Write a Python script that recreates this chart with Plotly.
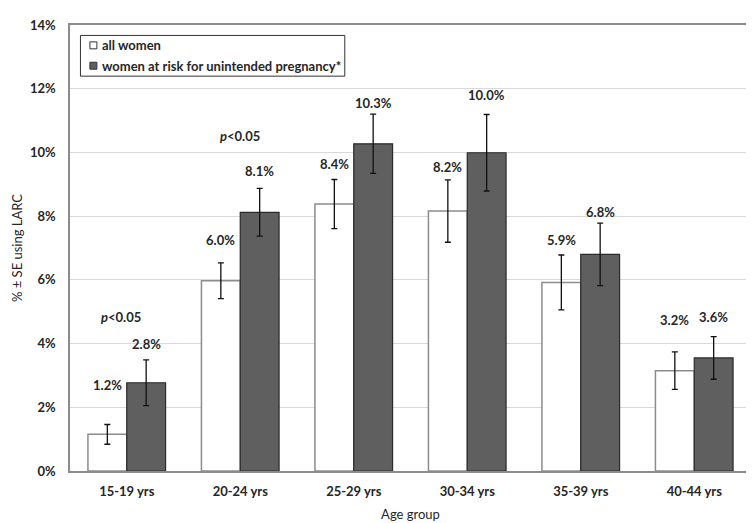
import plotly.graph_objects as go

categories = ["15-19 yrs", "20-24 yrs", "25-29 yrs", "30-34 yrs", "35-39 yrs", "40-44 yrs"]
all_women = [1.15, 5.97, 8.38, 8.16, 5.92, 3.15]
all_women_se = [0.31, 0.56, 0.77, 0.98, 0.86, 0.59]
at_risk = [2.77, 8.12, 10.27, 9.99, 6.80, 3.55]
at_risk_se = [0.72, 0.75, 0.93, 1.20, 0.98, 0.67]
all_women_labels = ["1.2%", "6.0%", "8.4%", "8.2%", "5.9%", "3.2%"]
at_risk_labels = ["2.8%", "8.1%", "10.3%", "10.0%", "6.8%", "3.6%"]
sig_categories = ["15-19 yrs", "20-24 yrs"]
y_ticks = [0, 2, 4, 6, 8, 10, 12, 14]
y_tick_labels = ["0%", "2%", "4%", "6%", "8%", "10%", "12%", "14%"]
series_names = ["all women", "women at risk for unintended pregnancy*"]

FONT = "Lato"
TXT = "#262626"
WHITE_FILL, WHITE_LINE = "white", "#8c8c8c"
DARK_FILL, DARK_LINE = "#5f5f5f", "#2a2a2a"

# plot-area geometry in pixels (for legend placement)
W, H = 754, 523
ML, MR, MT, MB = 61, 9, 14, 60
PW, PH = W - ML - MR, H - MT - MB


def px_x(px):
    return (px - ML) / PW


def px_y(py):
    return (H - MB - py) / PH


fig = go.Figure()
fig.add_trace(go.Bar(
    name=series_names[0], x=categories, y=all_women,
    marker=dict(color=WHITE_FILL, line=dict(color=WHITE_LINE, width=1.5)),
    error_y=dict(type="data", array=all_women_se, visible=True,
                 color="#111111", thickness=1.3, width=3),
))
fig.add_trace(go.Bar(
    name=series_names[1], x=categories, y=at_risk,
    marker=dict(color=DARK_FILL, line=dict(color=DARK_LINE, width=1.2)),
    error_y=dict(type="data", array=at_risk_se, visible=True,
                 color="#111111", thickness=1.3, width=3),
))

# value labels above error bars (offsets are label placement only)
off_all = [1.23, 0.72, 0.49, 0.39, 0.47, 1.0]
off_risk = [0.49, 0.56, 0.35, 0.60, 0.35, 0.61]
for i, c in enumerate(categories):
    fig.add_annotation(x=c, y=all_women[i] + all_women_se[i] + off_all[i],
                       text="<b>%s</b>" % all_women_labels[i], showarrow=False,
                       xshift=-19.5, yanchor="middle",
                       font=dict(family=FONT, size=13, color=TXT))
    fig.add_annotation(x=c, y=at_risk[i] + at_risk_se[i] + off_risk[i],
                       text="<b>%s</b>" % at_risk_labels[i], showarrow=False,
                       xshift=19.5, yanchor="middle",
                       font=dict(family=FONT, size=13, color=TXT))

sig_pos = [(-6, 4.82), (0, 10.52)]
for c, (dx, yy) in zip(sig_categories, sig_pos):
    fig.add_annotation(x=c, y=yy, text="<b><i>p</i>&lt;0.05</b>", showarrow=False,
                       xshift=dx, yanchor="middle",
                       font=dict(family=FONT, size=13, color=TXT))

# hand-drawn legend box (Excel style)
fig.add_shape(type="rect", xref="paper", yref="paper",
              x0=px_x(71.5), x1=px_x(337), y0=px_y(65.5), y1=px_y(24.5),
              line=dict(color="#333333", width=1), fillcolor="white", layer="above")
rows = [34.5, 55]
sym = [(WHITE_FILL, "#333333"), (DARK_FILL, "#333333")]
for name, cy, (fc, lc) in zip(series_names, rows, sym):
    fig.add_shape(type="rect", xref="paper", yref="paper",
                  x0=px_x(81), x1=px_x(88), y0=px_y(cy + 3.5), y1=px_y(cy - 3.5),
                  line=dict(color=lc, width=1), fillcolor=fc, layer="above")
    fig.add_annotation(xref="paper", yref="paper", x=px_x(91), y=px_y(cy),
                       xanchor="left", yanchor="middle", showarrow=False,
                       text="<b>%s</b>" % name,
                       font=dict(family=FONT, size=13, color=TXT))

fig.update_layout(
    width=W, height=H,
    margin=dict(l=ML, r=MR, t=MT, b=MB),
    paper_bgcolor="white", plot_bgcolor="white",
    barmode="group", bargap=0.316, bargroupgap=0,
    font=dict(family=FONT, size=13, color=TXT),
    showlegend=False,
)
fig.update_xaxes(
    showline=True, linecolor="#8c8c8c", linewidth=1.5, mirror=True,
    ticks="outside", ticklen=8, tickcolor="rgba(0,0,0,0)",
    tickfont=dict(family=FONT, size=13, color=TXT, weight="bold"),
    title=dict(text="Age group", standoff=12,
               font=dict(family=FONT, size=13, color=TXT)),
)
fig.update_yaxes(
    range=[0, 14], tickvals=y_ticks, ticktext=y_tick_labels,
    showgrid=True, gridcolor="#d9d9d9", gridwidth=1,
    showline=True, linecolor="#8c8c8c", linewidth=1.5, mirror=True,
    zeroline=False,
    ticks="outside", ticklen=10, tickcolor="rgba(0,0,0,0)",
    tickfont=dict(family=FONT, size=13, color=TXT, weight="bold"),
    title=dict(text="% ± SE using LARC", standoff=4,
               font=dict(family=FONT, size=13, color=TXT)),
)

fig.write_html("out.html")
